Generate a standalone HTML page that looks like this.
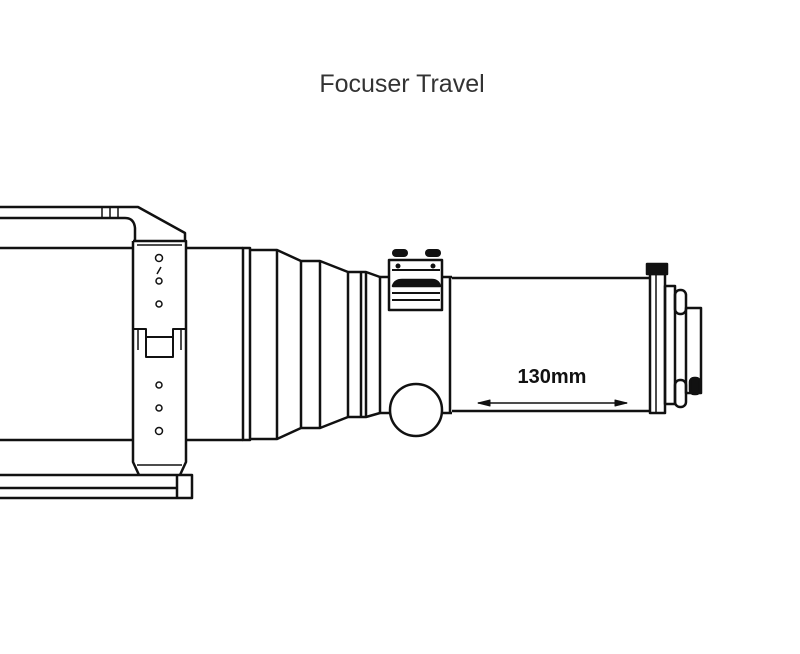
<!DOCTYPE html>
<html><head><meta charset="utf-8"><style>
html,body{margin:0;padding:0;background:#fff;}
svg{display:block}
</style></head><body>
<svg width="800" height="654" viewBox="0 0 800 654" xmlns="http://www.w3.org/2000/svg">
<rect width="800" height="654" fill="#fff"/>
<text x="402" y="92" text-anchor="middle" font-family="Liberation Sans, sans-serif" font-size="25" fill="#333">Focuser Travel</text>
<g fill="none" stroke="#111" stroke-width="2.5" stroke-linejoin="round">
<!-- top rail -->
<path d="M0 207 H138 L185 233 V240"/>
<path d="M0 218 H125 Q134 218 135 228 V240"/>
<path d="M102 207 V218 M110 207 V218 M118 207 V218" stroke-width="1.5"/>
<!-- main tube -->
<path d="M0 248 H133 M185 248 H243 M0 440 H133 M185 440 H243"/>
<!-- clamp ring -->
<path d="M133 241 H186 V462 L180 475 M133 241 V462 L139 475"/>
<path d="M137 245 H182 M137 465 H182" stroke-width="1.5"/>
<path d="M133 329 H146 V357 H173 V329 H186 M146 337 H173" stroke-width="2"/>
<path d="M138 329 V350 M181 329 V350" stroke-width="1.5"/>
<g stroke-width="1.5">
<circle cx="159" cy="258" r="3.5"/><circle cx="159" cy="281" r="3"/><circle cx="159" cy="304" r="3"/>
<circle cx="159" cy="385" r="3"/><circle cx="159" cy="408" r="3"/><circle cx="159" cy="431" r="3.5"/>
<path d="M157 274 L161 267"/>
</g>
<!-- base plate -->
<path d="M0 475 H192 V498 H0 M0 488 H177 M177 475 V498"/>
<!-- ring and tapers -->
<rect x="243" y="248" width="7" height="192"/>
<path d="M250 250 H277 L301 261 H320 L348 272 H366 L380 277 M250 439 H277 L301 428 H320 L348 417 H366 L380 413"/>
<path d="M277 250 V439 M301 261 V428 M320 261 V428 M348 272 V417 M361 272 V417 M366 273 V416"/>
<!-- focuser body -->
<path d="M380 277 V413 M380 277 H388 M442 277 H452 M380 413 H452 M450 277 V413"/>
<rect x="389" y="260" width="53" height="50"/>
<path d="M392 270 H440 M392 300 H440 M392 293 H440" stroke-width="2"/>
<path d="M393 286 Q395 280 402 280 H432 Q438 280 440 286 Z" fill="#111"/>
<g fill="#111" stroke="none">
<rect x="392" y="249" width="16" height="8" rx="4"/><rect x="425" y="249" width="16" height="8" rx="4"/>
<circle cx="398" cy="266" r="2.5"/><circle cx="433" cy="266" r="2.5"/>
</g>
<circle cx="416" cy="410" r="26" fill="#fff"/>
<!-- drawtube -->
<path d="M452 278 H650 M452 411 H650"/>
<rect x="650" y="274" width="15" height="139"/>
<path d="M656 274 V413" stroke-width="1.5"/>
<rect x="647" y="264" width="20" height="10" fill="#111"/>
<rect x="665" y="286" width="10" height="118"/>
<rect x="675" y="290" width="11" height="24" rx="5"/>
<rect x="675" y="380" width="11" height="27" rx="5"/>
<rect x="686" y="308" width="15" height="85"/>
<rect x="690" y="378" width="10" height="16" rx="4" fill="#111"/>
<!-- arrow -->
<path d="M478 403 H627" stroke-width="1.5"/>
<path d="M478 403 L490 400 L490 406 Z M627 403 L615 400 L615 406 Z" fill="#111" stroke-width="1"/>
</g>
<text x="552" y="383" text-anchor="middle" font-family="Liberation Sans, sans-serif" font-size="20" font-weight="bold" fill="#111">130mm</text>
</svg>
</body></html>
